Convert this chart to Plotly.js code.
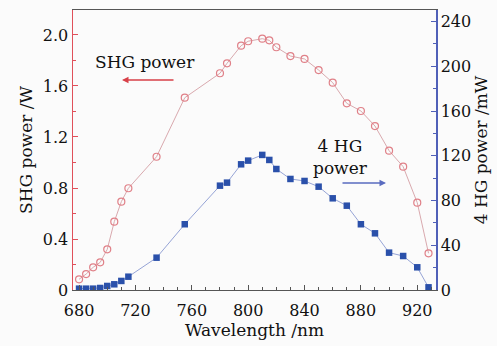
<!DOCTYPE html>
<html><head><meta charset="utf-8">
<script src="https://cdn.plot.ly/plotly-3.0.1.min.js"></script>
<style>html,body{margin:0;padding:0;background:#fbfbfb}#c{width:497px;height:346px}</style>
</head><body><div id="c"></div>
<script>
const wavelength = [680,685,690,695,700,705,710,715,735,755,780,785,795,800,810,815,820,830,840,850,860,870,880,890,900,910,920,928];
const shgPower = [0.084,0.125,0.178,0.217,0.319,0.536,0.693,0.798,1.045,1.508,1.70,1.778,1.916,1.951,1.971,1.958,1.904,1.835,1.812,1.725,1.626,1.464,1.404,1.286,1.093,0.967,0.685,0.288];
const hg4Power = [1.2,1.2,1.2,1.8,3.6,5.1,8.1,11.9,28.9,58.8,93.3,96,112.4,115.7,120.8,116.3,108.2,99.3,97.5,92.4,82,75.4,58.8,50.7,33.4,30.4,20.3,2.4];
const xTicks = [680,720,760,800,840,880,920];

const F = "'DejaVu Serif', serif";
const traces = [
  {x: wavelength, y: shgPower, type:'scatter', mode:'lines+markers', yaxis:'y',
   line:{color:'#d9a9ae', width:1},
   marker:{symbol:'circle-open', size:7, color:'#e08088', line:{width:1.2, color:'#e08088'}}},
  {x: wavelength, y: hg4Power, type:'scatter', mode:'lines+markers', yaxis:'y2',
   line:{color:'#96a4d6', width:1},
   marker:{symbol:'square', size:6.5, color:'#2a50aa'}}
];
const layout = {
  width:497, height:346, showlegend:false,
  paper_bgcolor:'#fbfbfb', plot_bgcolor:'#fbfbfb',
  margin:{l:73, r:61, t:10, b:56},
  font:{family:F, size:16, color:'#111'},
  xaxis:{range:[675.7,933.3], tickvals:xTicks, ticktext:xTicks.map(String),
    showline:true, mirror:true, linecolor:'#555', linewidth:1,
    ticks:'inside', ticklen:5, tickcolor:'#555', showgrid:false, zeroline:false, ticklabelstandoff:6,
    minor:{dtick:10, tick0:680, ticks:'inside', ticklen:3, tickcolor:'#555'},
    title:{text:'Wavelength /nm', standoff:1, font:{family:F, size:17}}},
  yaxis:{range:[0,2.196], tickvals:[0,0.4,0.8,1.2,1.6,2.0], ticktext:['0','0.4','0.8','1.2','1.6','2.0'],
    showline:true, linecolor:'#e0505a', linewidth:1.5,
    ticks:'inside', ticklen:5, tickcolor:'#e0505a', showgrid:false, zeroline:false,
    minor:{dtick:0.2, ticks:'inside', ticklen:3, tickcolor:'#e0505a'},
    title:{text:'SHG power /W', standoff:6, font:{family:F, size:17}}},
  yaxis2:{range:[0,250.4], overlaying:'y', side:'right', tickvals:[0,40,80,120,160,200,240],
    showline:true, linecolor:'#5060b8', linewidth:1.5,
    ticks:'inside', ticklen:5, tickcolor:'#5060b8', showgrid:false, zeroline:false,
    minor:{dtick:20, ticks:'inside', ticklen:3, tickcolor:'#5060b8'},
    title:{text:'4 HG power /mW', standoff:4, font:{family:F, size:17}}},
  annotations:[
    {xref:'paper', yref:'paper', x:(145-73)/363, y:(290-62)/280, xanchor:'center', yanchor:'middle', text:'SHG power', showarrow:false, font:{family:F, size:17}},
    {xref:'paper', yref:'paper', x:(122-73)/363, y:(290-80)/280, ax:(175-73)/363, ay:(290-80)/280,
     axref:'paper', ayref:'paper', text:'', showarrow:true, arrowhead:2, arrowsize:1, arrowwidth:1.3, arrowcolor:'#d84048'},
    {xref:'paper', yref:'paper', x:(340-73)/363, y:(290-157)/280, xanchor:'center', yanchor:'middle', text:'4 HG<br>power', showarrow:false, font:{family:F, size:17}},
    {xref:'paper', yref:'paper', x:(386-73)/363, y:(290-183)/280, ax:(341-73)/363, ay:(290-183)/280,
     axref:'paper', ayref:'paper', text:'', showarrow:true, arrowhead:2, arrowsize:1, arrowwidth:1.3, arrowcolor:'#5a6cc0'}
  ]
};
Plotly.newPlot('c', traces, layout, {displayModeBar:false, staticPlot:true});
</script></body></html>
